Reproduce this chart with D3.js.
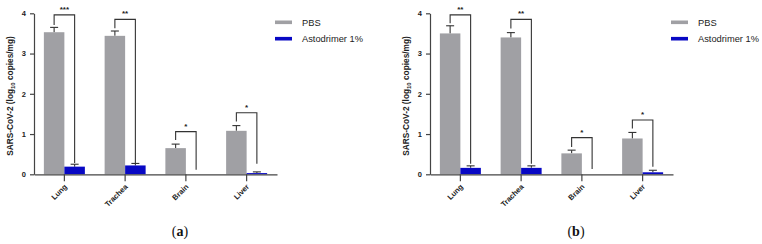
<!DOCTYPE html>
<html>
<head>
<meta charset="utf-8">
<script src="https://cdn.jsdelivr.net/npm/d3@7"></script>
<style>
  body { margin: 0; background: #fff; }
  svg { display: block; }
  .axis text { font-family: "Liberation Sans", Arial, sans-serif; font-weight: bold; font-size: 7.5px; fill: #222; }
  .axis path, .axis line { stroke: #444; stroke-width: 1.2; }
</style>
</head>
<body>
<div id="chart"></div>
<script>
// categories and series (log10 copies/mg)
var categories = ["Lung", "Trachea", "Brain", "Liver"];
var seriesNames = ["PBS", "Astodrimer 1%"];
var yTicks = [0, 1, 2, 3, 4];

// panel (a)
var pbsA      = [3.53, 3.44, 0.65, 1.08];
var pbsErrA   = [0.12, 0.12, 0.10, 0.13];
var astoA     = [0.19, 0.22, 0, 0.03];
var astoErrA  = [0.06, 0.05, 0, 0.03];
var starsA    = ["***", "**", "*", "*"];
var brTopA    = [3.96, 3.85, 1.06, 1.53];
var brLeftA   = [3.71, 3.63, 0.85, 1.31];
var brRightA  = [0.28, 0.28, 0.11, 0.26];

// panel (b)
var pbsB      = [3.50, 3.40, 0.52, 0.89];
var pbsErrB   = [0.19, 0.12, 0.08, 0.15];
var astoB     = [0.16, 0.16, 0, 0.05];
var astoErrB  = [0.05, 0.05, 0, 0.05];
var starsB    = ["**", "**", "*", "*"];
var brTopB    = [3.96, 3.85, 0.91, 1.35];
var brLeftB   = [3.75, 3.62, 0.68, 1.14];
var brRightB  = [0.26, 0.26, 0.13, 0.19];

var colors = ["#a0a0a4", "#0808c4"];

var svg = d3.select("#chart").append("svg")
    .attr("width", 762)
    .attr("height", 244);

function drawPanel(offsetX, label, pbs, pbsErr, asto, astoErr, stars, brTop, brLeft, brRight) {
    var g = svg.append("g").attr("transform", "translate(" + offsetX + ",0)");

    var x = d3.scaleBand().domain(categories).range([34, 277]).padding(0);
    var y = d3.scaleLinear().domain([0, 4]).range([174.3, 13.3]);
    var bw = 20.5;
    var cx = function(i) { return x(categories[i]) + x.bandwidth() / 2; };

    var rows = categories.map(function(c, i) {
        return {i: i, pbs: pbs[i], pbsErr: pbsErr[i], asto: asto[i], astoErr: astoErr[i],
                star: stars[i], top: brTop[i], left: brLeft[i], right: brRight[i]};
    });

    // error bars (upper only)
    var err = g.append("g").attr("stroke", "#333").attr("stroke-width", 1.1);
    rows.forEach(function(d) {
        [[cx(d.i) - bw / 2, d.pbs, d.pbsErr], [cx(d.i) + bw / 2, d.asto, d.astoErr]].forEach(function(e) {
            if (e[2] <= 0) return;
            err.append("line").attr("x1", e[0]).attr("x2", e[0]).attr("y1", y(e[1])).attr("y2", y(e[1] + e[2]));
            err.append("line").attr("x1", e[0] - 4).attr("x2", e[0] + 4).attr("y1", y(e[1] + e[2])).attr("y2", y(e[1] + e[2]));
        });
    });

    // bars
    g.selectAll(".pbs").data(rows).enter().append("rect")
        .attr("class", "pbs")
        .attr("x", function(d) { return cx(d.i) - bw; })
        .attr("width", bw)
        .attr("y", function(d) { return y(d.pbs); })
        .attr("height", function(d) { return y(0) - y(d.pbs); })
        .style("fill", colors[0]);

    g.selectAll(".asto").data(rows).enter().append("rect")
        .attr("class", "asto")
        .attr("x", function(d) { return cx(d.i); })
        .attr("width", bw)
        .attr("y", function(d) { return y(d.asto); })
        .attr("height", function(d) { return y(0) - y(d.asto); })
        .style("fill", colors[1]);

    // significance brackets
    g.selectAll(".bracket").data(rows).enter().append("path")
        .attr("class", "bracket")
        .attr("fill", "none")
        .attr("stroke", "#333")
        .attr("stroke-width", 1.1)
        .attr("d", function(d) {
            var x1 = cx(d.i) - bw / 2, x2 = cx(d.i) + bw / 2;
            return "M" + x1 + "," + y(d.left) + "V" + y(d.top) + "H" + x2 + "V" + y(d.right);
        });

    g.selectAll(".star").data(rows).enter().append("text")
        .attr("class", "star")
        .attr("x", function(d) { return cx(d.i); })
        .attr("y", function(d) { return y(d.top) - 3; })
        .style("text-anchor", "middle")
        .style("font-family", "Liberation Sans, Arial, sans-serif")
        .style("font-weight", "bold")
        .style("font-size", "8px")
        .style("fill", "#222")
        .text(function(d) { return d.star; });

    // axes
    var xAxis = g.append("g")
        .attr("class", "axis")
        .attr("transform", "translate(0," + y(0) + ")")
        .call(d3.axisBottom(x).tickSize(7).tickSizeOuter(0));
    xAxis.selectAll("text")
        .attr("y", 0).attr("dy", 0)
        .attr("transform", "translate(3,13) rotate(-45)")
        .style("text-anchor", "end");

    g.append("g")
        .attr("class", "axis")
        .attr("transform", "translate(34,0)")
        .call(d3.axisLeft(y).tickValues(yTicks).tickFormat(d3.format("d"))
            .tickSize(4).tickSizeOuter(0).tickPadding(4));

    var title = g.append("text")
        .attr("transform", "translate(13,96) rotate(-90)")
        .style("text-anchor", "middle")
        .style("font-family", "Liberation Sans, Arial, sans-serif")
        .style("font-weight", "bold")
        .style("font-size", "8.3px")
        .style("fill", "#222");
    title.append("tspan").text("SARS-CoV-2 (log");
    title.append("tspan").attr("dy", 2).style("font-size", "6px").text("10");
    title.append("tspan").attr("dy", -2).text(" copies/mg)");

    // legend
    var lg = g.selectAll(".legend").data(seriesNames).enter().append("g")
        .attr("class", "legend")
        .attr("transform", function(d, i) { return "translate(275," + (22.3 + i * 16.4) + ")"; });
    lg.append("rect")
        .attr("x", 0).attr("y", -1.8).attr("width", 17).attr("height", 3.6)
        .style("fill", function(d, i) { return colors[i]; });
    lg.append("text")
        .attr("x", 27).attr("y", 3.3)
        .style("font-family", "Liberation Sans, Arial, sans-serif")
        .style("font-size", "9.3px")
        .style("fill", "#222")
        .text(function(d) { return d; });

    // panel label
    var pl = g.append("text")
        .attr("x", 180).attr("y", 236)
        .style("text-anchor", "middle")
        .style("font-family", "Liberation Serif, 'DejaVu Serif', serif")
        .style("font-size", "14px")
        .style("fill", "#111");
    pl.append("tspan").text("(");
    pl.append("tspan").style("font-weight", "bold").text(label);
    pl.append("tspan").text(")");
}

drawPanel(0, "a", pbsA, pbsErrA, astoA, astoErrA, starsA, brTopA, brLeftA, brRightA);
drawPanel(396, "b", pbsB, pbsErrB, astoB, astoErrB, starsB, brTopB, brLeftB, brRightB);
</script>
</body>
</html>
